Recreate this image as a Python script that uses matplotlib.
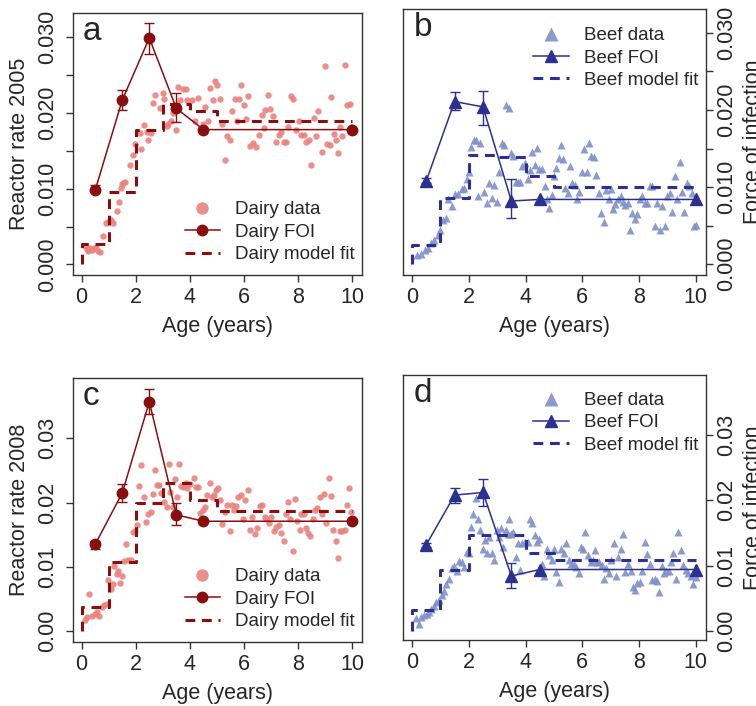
import matplotlib
matplotlib.use('Agg')
import matplotlib.pyplot as plt

plt.rcParams['font.family'] = ['Liberation Sans', 'DejaVu Sans']

DAIRY_PT = '#E8837E'
DAIRY_LN = '#8B0E0E'
BEEF_PT = '#8090C8'
BEEF_LN = '#2B3091'
TXT = '#262626'

# FOI age classes and step boundaries of the model fit
foi_age = [0.5, 1.5, 2.5, 3.5, 4.5, 10]
err_age = [0.5, 1.5, 2.5, 3.5]
step_age = [0, 0, 1, 2, 3, 4, 5, 10]

# ---- a: dairy 2005
a_age = [0.12, 0.18, 0.25, 0.32, 0.38, 0.45, 0.52, 0.60, 0.68, 0.80, 0.90, 1.00, 1.08, 1.17,
         1.29, 1.39, 1.46, 1.52, 1.60, 1.48, 1.78, 1.88, 1.97, 2.15, 2.21, 2.30, 2.40, 2.47,
         2.55, 2.62, 2.71, 2.89, 2.99, 3.06, 3.14, 3.20, 3.32, 3.38, 3.48, 3.57, 3.63, 3.73,
         3.84, 3.90, 4.06, 4.18, 4.31, 4.49, 4.55, 4.67, 4.74, 4.86, 4.92, 5.00, 5.10, 5.20,
         5.30, 5.38, 5.47, 5.56, 5.66, 5.74, 5.82, 5.90, 5.99, 6.06, 6.15, 6.23, 6.33, 6.43,
         6.56, 6.65, 6.73, 6.79, 6.89, 6.97, 7.07, 7.17, 7.29, 7.38, 7.47, 7.54, 7.64, 7.75,
         7.81, 7.93, 8.03, 8.12, 8.20, 8.30, 8.40, 8.49, 8.57, 8.65, 8.73, 8.89, 8.98, 9.07,
         9.16, 9.23, 9.31, 9.39, 9.47, 9.56, 9.63, 9.72, 9.82, 9.90, 9.96]
a_val = [.0024, .0020, .0018, .0021, .0019, .0022, .0021, .0018, .0017, .0038, .0055, .0057, .0059, .0055,
         .0071, .0083, .0101, .0107, .0109, .0106, .0131, .0144, .0159, .0174, .0153, .0184, .0175, .0164,
         .0173, .0213, .0224, .0206, .0226, .0219, .0183, .0186, .0190, .0200, .0178, .0234, .0217, .0231,
         .0231, .0217, .0217, .0190, .0220, .0186, .0208, .0190, .0233, .0217, .0242, .0237, .0218, .0186,
         .0138, .0169, .0164, .0203, .0218, .0190, .0218, .0237, .0211, .0192, .0222, .0156, .0160, .0155,
         .0171, .0197, .0180, .0204, .0224, .0205, .0196, .0162, .0171, .0175, .0162, .0162, .0181, .0222,
         .0218, .0178, .0190, .0171, .0171, .0162, .0164, .0131, .0193, .0170, .0202, .0148, .0262, .0159,
         .0158, .0221, .0172, .0164, .0147, .0182, .0169, .0263, .0211, .0212, .0182]
a_foi = [0.0098, 0.0217, 0.0299, 0.0206, 0.0178, 0.0178]
a_lo = [0.0095, 0.0204, 0.0278, 0.0188]
a_hi = [0.0105, 0.0230, 0.0319, 0.0226]
a_fit = [0, 0.0027, 0.0095, 0.0178, 0.0212, 0.0202, 0.0190, 0.0190]

# ---- b: beef 2005
b_age = [0.19, 0.31, 0.45, 0.57, 0.68, 0.78, 0.90, 0.98, 1.10, 1.18, 1.27, 1.42, 1.51, 1.63,
         1.75, 1.84, 1.92, 2.00, 2.08, 2.17, 2.24, 2.33, 2.40, 2.48, 2.55, 2.64, 2.72, 2.81,
         2.90, 2.98, 3.07, 3.16, 3.23, 3.31, 3.40, 3.49, 3.57, 3.66, 3.73, 3.81, 3.89, 3.99,
         4.07, 4.16, 4.22, 4.32, 4.41, 4.49, 4.58, 4.67, 4.75, 4.83, 4.93, 5.00, 5.08, 5.17,
         5.24, 5.32, 5.40, 5.48, 5.57, 5.64, 5.73, 5.81, 5.90, 5.99, 6.07, 6.16, 6.25, 6.32,
         6.40, 6.49, 6.58, 6.67, 6.76, 6.84, 6.93, 7.02, 7.09, 7.17, 7.25, 7.35, 7.43, 7.52,
         7.62, 7.69, 7.76, 7.84, 7.94, 8.02, 8.11, 8.21, 8.29, 8.37, 8.47, 8.56, 8.64, 8.73,
         8.82, 8.90, 9.00, 9.08, 9.17, 9.26, 9.35, 9.43, 9.50, 9.59, 9.68, 9.76, 9.85, 9.94, 10.0]
b_val = [.0012, .0013, .0018, .0021, .0027, .0031, .0038, .0045, .0057, .0060, .0084, .0075, .0091, .0091,
         .0097, .0099, .0110, .0120, .0152, .0161, .0161, .0088, .0157, .0203, .0094, .0080, .0105, .0086,
         .0103, .0081, .0119, .0157, .0155, .0206, .0203, .0144, .0140, .0107, .0106, .0107, .0127, .0131,
         .0110, .0122, .0146, .0129, .0151, .0123, .0123, .0101, .0084, .0073, .0090, .0114, .0125, .0138,
         .0155, .0136, .0099, .0092, .0128, .0105, .0103, .0084, .0094, .0120, .0149, .0119, .0157, .0140,
         .0139, .0116, .0092, .0066, .0055, .0096, .0084, .0097, .0071, .0078, .0084, .0088, .0081, .0077,
         .0079, .0045, .0066, .0058, .0065, .0084, .0089, .0080, .0079, .0101, .0101, .0050, .0080, .0045,
         .0075, .0050, .0088, .0092, .0068, .0114, .0084, .0133, .0094, .0068, .0105, .0101, .0092, .0049, .0051]
b_foi = [0.0108, 0.0211, 0.0204, 0.0082, 0.0084, 0.0084]
b_lo = [0.0105, 0.0200, 0.0181, 0.0060]
b_hi = [0.0112, 0.0223, 0.0225, 0.0110]
b_fit = [0, 0.0025, 0.0086, 0.0141, 0.0139, 0.0114, 0.0100, 0.0100]

# ---- c: dairy 2008
c_age = [0.12, 0.21, 0.28, 0.37, 0.49, 0.58, 0.65, 0.74, 0.82, 0.92, 0.98, 1.07, 1.14, 1.19,
         1.29, 1.35, 1.41, 1.48, 1.56, 1.64, 1.72, 1.81, 1.88, 1.97, 2.05, 2.13, 2.21, 2.30,
         2.37, 2.46, 2.55, 2.62, 2.71, 2.79, 2.87, 2.95, 3.04, 3.14, 3.21, 3.28, 3.36, 3.44,
         3.51, 3.60, 3.67, 3.75, 3.85, 3.91, 4.00, 4.15, 4.24, 4.31, 4.39, 4.47, 4.55, 4.64,
         4.74, 4.82, 4.90, 4.98, 5.04, 5.13, 5.20, 5.29, 5.38, 5.47, 5.56, 5.63, 5.72, 5.79,
         5.87, 5.97, 6.05, 6.15, 6.21, 6.30, 6.40, 6.48, 6.58, 6.67, 6.77, 6.83, 6.92, 7.01,
         7.10, 7.20, 7.29, 7.38, 7.47, 7.54, 7.63, 7.71, 7.81, 7.88, 7.97, 8.06, 8.12, 8.20,
         8.28, 8.36, 8.45, 8.55, 8.62, 8.71, 8.79, 8.88, 8.95, 9.04, 9.13, 9.20, 9.29, 9.39,
         9.47, 9.53, 9.62, 9.72, 9.80, 9.88, 9.96]
c_val = [.0017, .0022, .0058, .0024, .0027, .0030, .0024, .0038, .0040, .0042, .0079, .0066, .0074, .0102,
         .0089, .0094, .0075, .0085, .0109, .0135, .0111, .0110, .0154, .0156, .0165, .0226, .0258, .0209,
         .0170, .0183, .0186, .0214, .0250, .0227, .0227, .0215, .0201, .0193, .0260, .0217, .0193, .0236,
         .0208, .0260, .0226, .0224, .0231, .0222, .0229, .0238, .0225, .0225, .0184, .0188, .0193, .0212,
         .0231, .0208, .0212, .0219, .0223, .0204, .0167, .0186, .0196, .0156, .0196, .0189, .0195, .0208,
         .0212, .0174, .0204, .0219, .0157, .0178, .0151, .0161, .0195, .0196, .0178, .0174, .0168, .0178,
         .0156, .0162, .0165, .0152, .0141, .0183, .0201, .0174, .0125, .0206, .0172, .0158, .0183, .0183,
         .0160, .0153, .0148, .0174, .0188, .0191, .0209, .0182, .0214, .0168, .0238, .0210, .0158, .0141,
         .0114, .0156, .0156, .0157, .0196, .0222, .0186]
c_foi = [0.0135, 0.0215, 0.0357, 0.0181, 0.0171, 0.0171]
c_lo = [0.0128, 0.0201, 0.0338, 0.0165]
c_hi = [0.0141, 0.0229, 0.0377, 0.0199]
c_fit = [0, 0.0037, 0.0108, 0.0200, 0.0230, 0.0204, 0.0187, 0.0187]

# ---- d: beef 2008
d_age = [0.15, 0.24, 0.33, 0.42, 0.51, 0.59, 0.68, 0.78, 0.86, 0.94, 1.04, 1.13, 1.21, 1.30,
         1.39, 1.49, 1.59, 1.67, 1.77, 1.84, 1.92, 2.00, 2.08, 2.16, 2.24, 2.33, 2.41, 2.49,
         2.57, 2.65, 2.72, 2.81, 2.89, 2.98, 3.07, 3.14, 3.22, 3.30, 3.37, 3.43, 3.49, 3.57,
         3.66, 3.73, 3.81, 3.89, 3.99, 4.07, 4.16, 4.22, 4.32, 4.40, 4.49, 4.58, 4.66, 4.75,
         4.83, 4.93, 5.01, 5.09, 5.18, 5.26, 5.34, 5.42, 5.52, 5.60, 5.70, 5.78, 5.87, 5.94,
         6.03, 6.11, 6.20, 6.29, 6.37, 6.44, 6.52, 6.60, 6.70, 6.77, 6.85, 6.93, 7.02, 7.11,
         7.19, 7.26, 7.35, 7.43, 7.52, 7.62, 7.70, 7.78, 7.85, 7.94, 8.02, 8.11, 8.20, 8.28,
         8.37, 8.47, 8.55, 8.63, 8.70, 8.80, 8.88, 8.96, 9.06, 9.14, 9.21, 9.29, 9.38, 9.47,
         9.55, 9.65, 9.73, 9.82, 9.91, 10.0]
d_val = [.0019, .0011, .0021, .0024, .0026, .0029, .0034, .0038, .0044, .0048, .0055, .0061, .0072, .0080,
         .0096, .0099, .0092, .0107, .0106, .0098, .0121, .0119, .0159, .0179, .0204, .0172, .0155, .0126,
         .0139, .0120, .0144, .0119, .0108, .0154, .0144, .0157, .0129, .0154, .0149, .0171, .0149, .0152,
         .0113, .0135, .0094, .0135, .0136, .0136, .0171, .0165, .0147, .0136, .0140, .0103, .0084, .0126,
         .0116, .0108, .0125, .0090, .0075, .0125, .0119, .0135, .0108, .0103, .0102, .0098, .0088, .0129,
         .0126, .0152, .0116, .0106, .0108, .0124, .0106, .0106, .0101, .0080, .0096, .0088, .0108, .0134,
         .0084, .0113, .0125, .0148, .0090, .0102, .0092, .0067, .0063, .0074, .0075, .0092, .0136, .0118,
         .0102, .0078, .0080, .0077, .0060, .0099, .0088, .0092, .0092, .0106, .0120, .0080, .0152, .0124,
         .0101, .0094, .0089, .0084, .0072, .0083]
d_foi = [0.0132, 0.0208, 0.0212, 0.0084, 0.0094, 0.0094]
d_lo = [0.0129, 0.0196, 0.0192, 0.0065]
d_hi = [0.0135, 0.0219, 0.0232, 0.0104]
d_fit = [0, 0.0032, 0.0093, 0.0147, 0.0147, 0.0120, 0.0108, 0.0108]

ticks_fine = [0, 0.005, 0.010, 0.015, 0.020, 0.025, 0.030]
labels_fine = ['0.000', '', '0.010', '', '0.020', '', '0.030']
ticks_coarse = [0, 0.01, 0.02, 0.03]
labels_coarse = ['0.00', '0.01', '0.02', '0.03']

W, H = 756, 706
fig = plt.figure(figsize=(W / 100, H / 100), dpi=100)

plt.rcParams['legend.handlelength'] = 1.9
plt.rcParams['legend.handletextpad'] = 0.8
plt.rcParams['legend.labelspacing'] = 0.28
plt.rcParams['legend.borderpad'] = 0.0
plt.rcParams['legend.borderaxespad'] = 0.0
plt.rcParams['legend.fontsize'] = 13.5


def panel(box, letter, ages, vals, foi, lo, hi, fit, herd, ylim, yt, yl, right, leg_y):
    l, t, r, b = box
    ax = fig.add_axes([l / W, 1 - b / H, (r - l) / W, (b - t) / H])
    if herd == 'Dairy':
        pc, lc, mk, ms, fms, lms = DAIRY_PT, DAIRY_LN, 'o', 4.6, 7.5, 9.0
    else:
        pc, lc, mk, ms, fms, lms = BEEF_PT, BEEF_LN, '^', 6.0, 9.0, 10.0
    ax.plot(ages, vals, ls='none', marker=mk, ms=ms, color=pc, mec='none',
            alpha=0.9, label=herd + ' data', zorder=2)
    ax.plot(step_age, fit, drawstyle='steps-post', color=lc, lw=2.2,
            ls=(0, (3.2, 2.2)), label=herd + ' model fit', zorder=3)
    ax.errorbar(err_age, foi[:4], yerr=[[f - v for f, v in zip(foi, lo)], [v - f for f, v in zip(foi, hi)]],
                fmt='none', ecolor=lc, elinewidth=1.0, capsize=3.8, capthick=1.0, zorder=4)
    ax.plot(foi_age, foi, color=lc, lw=1.1, marker=mk, ms=fms, mec=lc,
            label=herd + ' FOI', zorder=5)

    ax.set_xlim(-0.32, 10.36)
    ax.set_ylim(*ylim)
    ax.set_xticks([0, 2, 4, 6, 8, 10])
    ax.set_yticks(yt)
    ax.set_yticklabels(yl)
    for s in ax.spines.values():
        s.set_color('#333333')
        s.set_linewidth(1.0)
    ax.tick_params(axis='both', length=5, width=1.0, color='#333333',
                   labelsize=15.5, labelcolor=TXT)
    ax.tick_params(axis='x', pad=4)
    if right:
        ax.yaxis.tick_right()
        ax.tick_params(axis='y', pad=2)
    else:
        ax.tick_params(axis='y', pad=6)
    for lab in ax.get_yticklabels():
        lab.set_rotation(90)
        lab.set_va('center')

    ax.text(0.035, 0.897, letter, transform=ax.transAxes, fontsize=24,
            color=TXT, ha='left', va='baseline')
    ax.text(0.5, -0.195, 'Age (years)', transform=ax.transAxes, fontsize=15.5,
            color=TXT, ha='center', va='center')

    h, lbl = ax.get_legend_handles_labels()
    order = [0, 2, 1]
    loc = 'upper right' if right else 'lower right'
    leg = ax.legend([h[i] for i in order], [lbl[i] for i in order], loc=loc,
                    bbox_to_anchor=(0.975, leg_y))
    leg.set_frame_on(False)
    for txt in leg.get_texts():
        txt.set_color(TXT)
    leg.legend_handles[0].set_markersize(lms)
    leg.legend_handles[0].set_alpha(0.9)
    return ax


panel((73, 13, 362, 275), 'a', a_age, a_val, a_foi, a_lo, a_hi, a_fit, 'Dairy',
      (-0.0014, 0.0332), ticks_fine, labels_fine, False, 0.045)
panel((403, 9, 706, 275), 'b', b_age, b_val, b_foi, b_lo, b_hi, b_fit, 'Beef',
      (-0.0014, 0.0331), ticks_fine, labels_fine, True, 0.932)
panel((73, 378, 362, 642), 'c', c_age, c_val, c_foi, c_lo, c_hi, c_fit, 'Dairy',
      (-0.0017, 0.0394), ticks_coarse, labels_coarse, False, 0.045)
panel((403, 375, 706, 640), 'd', d_age, d_val, d_foi, d_lo, d_hi, d_fit, 'Beef',
      (-0.0014, 0.0392), ticks_coarse, labels_coarse, True, 0.936)

fig.text(9 / W, 1 - 144 / H, 'Reactor rate 2005', rotation=90, fontsize=15.5,
         color=TXT, ha='left', va='center')
fig.text(9 / W, 1 - 510 / H, 'Reactor rate 2008', rotation=90, fontsize=15.5,
         color=TXT, ha='left', va='center')
fig.text(743 / W, 1 - 142 / H, 'Force of infection', rotation=90, fontsize=15.5,
         color=TXT, ha='left', va='center')
fig.text(743 / W, 1 - 508 / H, 'Force of infection', rotation=90, fontsize=15.5,
         color=TXT, ha='left', va='center')

fig.savefig('out.png', dpi=100)
